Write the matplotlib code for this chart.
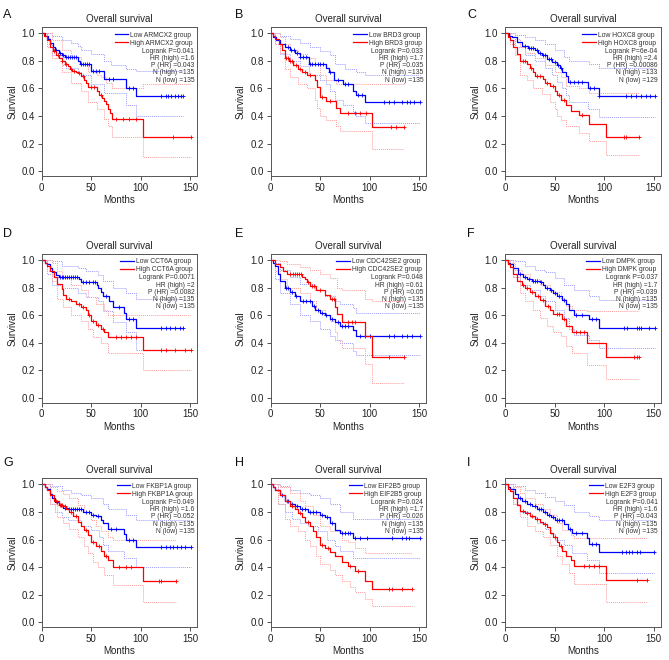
import numpy as np
import matplotlib
matplotlib.use("Agg")
import matplotlib.pyplot as plt

plt.rcParams['font.family'] = ['Liberation Sans', 'DejaVu Sans']

# panel letters, gene names and the stats printed in each panel
letters = ["A", "B", "C", "D", "E", "F", "G", "H", "I"]
genes = ["ARMCX2", "BRD3", "HOXC8", "CCT6A", "CDC42SE2", "DMPK", "FKBP1A", "EIF2B5", "E2F3"]
logrank_p = ["0.041", "0.033", "6e-04", "0.0071", "0.048", "0.037", "0.049", "0.024", "0.041"]
hr_high = ["1.6", "1.7", "2.4", "2", "0.61", "1.7", "1.6", "1.7", "1.6"]
p_hr = ["0.043", "0.035", "0.00086", "0.0082", "0.05", "0.039", "0.052", "0.026", "0.043"]
n_high = [135, 135, 133, 135, 135, 135, 135, 135, 135]
n_low = [135, 135, 129, 135, 135, 135, 135, 135, 135]

# ---- KM curves (months, survival) ----
A_low = [(0,1.0),(3,0.98),(6,0.96),(8,0.93),(11,0.90),(13,0.88),(17,0.86),(20,0.845),(24,0.83),(37,0.80),(39,0.78),(50,0.73),(63,0.67),(85,0.60),(95.5,0.545),(143,0.545)]
A_low_cens = [14, 18, 22, 25, 27, 29, 31, 33, 35, 40, 42, 44, 46, 48, 52, 55, 58, 68, 72, 88, 92, 120, 125, 128, 131, 135, 138, 141, 143]
A_high = [(0,1.0),(2,0.98),(5,0.95),(8,0.90),(11,0.87),(14,0.84),(17,0.82),(20,0.80),(24,0.78),(27,0.76),(29,0.74),(31,0.73),(35,0.72),(37,0.71),(40,0.69),(43,0.66),(45,0.64),(47,0.61),(56,0.58),(58,0.55),(61,0.53),(63,0.51),(65,0.49),(67,0.45),(69,0.42),(71,0.38),(102,0.25),(151,0.25)]
A_high_cens = [12, 16, 20, 25, 30, 33, 38, 42, 50, 53, 60, 75, 82, 88, 95, 133, 151]
A_low_up = [(0,1.0),(10,0.98),(20,0.95),(30,0.93),(37,0.91),(40,0.88),(50,0.85),(63,0.80),(70,0.77),(85,0.74),(95.5,0.73),(143,0.73)]
A_low_lo = [(0,1.0),(5,0.92),(10,0.84),(20,0.77),(25,0.75),(37,0.72),(40,0.70),(50,0.63),(63,0.57),(85,0.48),(95.5,0.40),(143,0.40)]
A_high_up = [(0,1.0),(10,0.95),(20,0.88),(30,0.83),(40,0.78),(47,0.72),(56,0.70),(60,0.68),(65,0.64),(71,0.60),(102,0.63),(151,0.63)]
A_high_lo = [(0,1.0),(5,0.90),(10,0.82),(20,0.72),(30,0.64),(40,0.58),(47,0.50),(56,0.45),(63,0.38),(67,0.33),(71,0.25),(102,0.10),(151,0.10)]

B_low = [(0,1.0),(3,0.97),(6,0.95),(10,0.92),(15,0.90),(20,0.88),(25,0.86),(30,0.83),(39,0.78),(56,0.75),(59,0.72),(64,0.66),(73,0.63),(83.5,0.58),(86,0.55),(95,0.50),(151,0.50)]
B_low_cens = [18, 21, 24, 27, 30, 33, 36, 40, 42, 45, 48, 50, 53, 60, 68, 75, 78, 88, 92, 115, 120, 125, 133, 138, 141, 145, 151]
B_high = [(0,1.0),(3,0.98),(5,0.96),(9,0.92),(12,0.88),(15,0.82),(19,0.80),(23,0.77),(28,0.74),(32,0.72),(37,0.70),(45,0.66),(47,0.61),(50,0.54),(56,0.51),(66,0.46),(70,0.42),(102,0.32),(135,0.32)]
B_high_cens = [16, 18, 20, 22, 26, 30, 35, 40, 52, 60, 78, 85, 90, 96, 122, 127, 135]
B_low_up = [(0,1.0),(10,0.98),(20,0.96),(30,0.93),(40,0.90),(50,0.87),(60,0.84),(65,0.78),(75,0.74),(86,0.72),(95,0.70),(151,0.70)]
B_low_lo = [(0,1.0),(5,0.92),(10,0.85),(20,0.80),(30,0.76),(39,0.70),(50,0.66),(56,0.63),(60,0.58),(65,0.52),(73,0.48),(83,0.43),(86,0.40),(95,0.35),(151,0.35)]
B_high_up = [(0,1.0),(10,0.97),(15,0.92),(20,0.88),(28,0.85),(37,0.82),(45,0.78),(50,0.70),(56,0.66),(66,0.63),(135,0.63)]
B_high_lo = [(0,1.0),(5,0.92),(10,0.86),(15,0.74),(20,0.68),(28,0.63),(37,0.60),(45,0.52),(47,0.46),(50,0.40),(56,0.37),(66,0.33),(70,0.29),(102,0.16),(135,0.16)]

C_low = [(0,1.0),(4,0.98),(7,0.97),(12,0.94),(17,0.91),(23,0.89),(30,0.88),(33,0.86),(37,0.84),(42,0.81),(47,0.79),(52,0.77),(56,0.75),(58,0.72),(62,0.69),(64,0.65),(83.5,0.60),(95,0.545),(151,0.545)]
C_low_cens = [20, 24, 26, 28, 32, 35, 38, 40, 44, 46, 50, 54, 57, 66, 70, 74, 78, 86, 90, 95, 122, 127, 132, 137, 142, 146, 151]
C_high = [(0,1.0),(3,0.97),(5,0.95),(8,0.90),(12,0.85),(15,0.80),(22,0.78),(25,0.75),(28,0.72),(30,0.69),(38,0.67),(40,0.64),(45,0.62),(50,0.58),(53,0.55),(57,0.52),(62,0.48),(67,0.44),(75,0.41),(85,0.34),(102,0.25),(135,0.25)]
C_high_cens = [18, 20, 26, 32, 35, 42, 48, 55, 60, 78, 120, 122, 135]
C_low_up = [(0,1.0),(10,0.99),(20,0.97),(30,0.95),(40,0.92),(50,0.88),(60,0.83),(65,0.80),(85,0.78),(95,0.75),(151,0.75)]
C_low_lo = [(0,1.0),(5,0.95),(10,0.90),(20,0.84),(30,0.80),(40,0.75),(47,0.70),(52,0.65),(58,0.60),(62,0.55),(65,0.50),(84,0.45),(95,0.39),(151,0.39)]
C_high_up = [(0,1.0),(10,0.96),(15,0.90),(20,0.86),(30,0.82),(40,0.77),(50,0.72),(57,0.68),(62,0.62),(75,0.60),(85,0.57),(135,0.57)]
C_high_lo = [(0,1.0),(5,0.92),(10,0.84),(15,0.70),(22,0.66),(28,0.60),(37,0.56),(45,0.50),(50,0.45),(53,0.40),(57,0.37),(62,0.33),(75,0.28),(85,0.22),(102,0.12),(135,0.12)]

D_low = [(0,1.0),(3,0.98),(5,0.97),(8,0.94),(10,0.91),(14,0.89),(17,0.88),(38,0.86),(40,0.84),(56,0.82),(57,0.80),(60,0.77),(62,0.74),(68,0.70),(72,0.66),(83,0.62),(85,0.57),(95,0.51),(143,0.51)]
D_low_cens = [18, 20, 22, 24, 26, 28, 30, 32, 34, 36, 42, 45, 48, 52, 54, 65, 78, 88, 92, 120, 125, 130, 135, 140, 143]
D_high = [(0,1.0),(3,0.98),(5,0.96),(8,0.92),(12,0.88),(15,0.83),(20,0.79),(22,0.75),(25,0.72),(30,0.70),(35,0.68),(40,0.66),(45,0.64),(47,0.60),(50,0.56),(55,0.53),(60,0.50),(63,0.48),(67,0.44),(102,0.35),(151,0.35)]
D_high_cens = [28, 38, 42, 48, 52, 57, 62, 75, 80, 85, 90, 95, 120, 125, 135, 145, 151]
D_low_up = [(0,1.0),(10,0.99),(20,0.96),(37,0.94),(45,0.92),(57,0.89),(62,0.85),(72,0.80),(85,0.76),(95,0.72),(143,0.72)]
D_low_lo = [(0,1.0),(5,0.90),(10,0.82),(20,0.80),(37,0.76),(45,0.73),(57,0.70),(62,0.63),(72,0.55),(85,0.48),(95,0.35),(143,0.35)]
D_high_up = [(0,1.0),(10,0.98),(15,0.92),(20,0.87),(30,0.82),(40,0.78),(47,0.73),(55,0.68),(63,0.64),(67,0.60),(151,0.60)]
D_high_lo = [(0,1.0),(5,0.92),(10,0.85),(15,0.72),(22,0.66),(30,0.60),(40,0.56),(47,0.50),(52,0.44),(60,0.40),(67,0.33),(102,0.20),(151,0.20)]

E_low = [(0,1.0),(3,0.98),(5,0.96),(8,0.90),(10,0.85),(15,0.80),(20,0.77),(25,0.74),(30,0.70),(42,0.67),(45,0.64),(50,0.62),(55,0.60),(60,0.57),(65,0.55),(70,0.52),(83,0.49),(86,0.45),(151,0.45)]
E_low_cens = [16, 18, 22, 26, 33, 36, 40, 44, 48, 52, 56, 62, 68, 72, 75, 78, 90, 95, 100, 120, 125, 133, 138, 143, 151]
E_high = [(0,1.0),(5,0.97),(10,0.95),(13,0.92),(17,0.90),(32,0.88),(35,0.86),(37,0.84),(40,0.81),(46,0.78),(55,0.75),(60,0.72),(65,0.66),(67,0.61),(72,0.55),(95,0.45),(102,0.30),(135,0.30)]
E_high_cens = [20, 23, 25, 27, 29, 31, 38, 42, 44, 50, 62, 64, 78, 82, 85, 120, 135]
E_low_up = [(0,1.0),(5,0.98),(10,0.93),(20,0.88),(30,0.83),(45,0.78),(55,0.74),(65,0.70),(70,0.68),(83,0.65),(86,0.62),(151,0.62)]
E_low_lo = [(0,1.0),(5,0.86),(10,0.76),(20,0.68),(30,0.60),(40,0.56),(50,0.50),(60,0.45),(65,0.42),(70,0.40),(83,0.34),(86,0.31),(151,0.31)]
E_high_up = [(0,1.0),(10,0.99),(17,0.97),(30,0.95),(40,0.93),(50,0.90),(60,0.87),(67,0.80),(72,0.78),(95,0.72),(102,0.70),(135,0.70)]
E_high_lo = [(0,1.0),(5,0.92),(10,0.86),(17,0.80),(30,0.76),(40,0.70),(46,0.64),(55,0.60),(60,0.56),(65,0.48),(67,0.42),(72,0.36),(95,0.25),(102,0.11),(135,0.11)]

F_low = [(0,1.0),(3,0.98),(5,0.97),(8,0.94),(13,0.90),(18,0.88),(22,0.86),(27,0.85),(35,0.84),(38,0.82),(40,0.80),(45,0.78),(48,0.76),(52,0.74),(58,0.71),(62,0.68),(65,0.64),(70,0.60),(85,0.57),(95,0.51),(151,0.51)]
F_low_cens = [15, 20, 24, 28, 30, 32, 36, 42, 46, 50, 55, 60, 72, 78, 88, 92, 120, 123, 133, 135, 137, 145, 151]
F_high = [(0,1.0),(3,0.97),(5,0.95),(8,0.90),(12,0.85),(17,0.82),(20,0.80),(25,0.77),(30,0.74),(35,0.71),(40,0.67),(45,0.64),(48,0.61),(58,0.57),(62,0.52),(68,0.48),(83,0.40),(102,0.30),(135,0.30)]
F_high_cens = [18, 22, 27, 33, 38, 43, 52, 55, 60, 72, 76, 80, 130, 133, 135]
F_low_up = [(0,1.0),(10,0.99),(20,0.96),(30,0.93),(40,0.91),(50,0.87),(60,0.82),(70,0.78),(85,0.74),(95,0.71),(151,0.71)]
F_low_lo = [(0,1.0),(8,0.88),(15,0.82),(25,0.78),(35,0.74),(40,0.70),(50,0.64),(60,0.58),(65,0.50),(70,0.46),(85,0.42),(95,0.36),(151,0.36)]
F_high_up = [(0,1.0),(5,0.98),(10,0.93),(17,0.90),(25,0.86),(35,0.82),(45,0.77),(57,0.72),(62,0.67),(68,0.64),(83,0.63),(135,0.63)]
F_high_lo = [(0,1.0),(8,0.88),(15,0.76),(20,0.70),(28,0.64),(35,0.58),(42,0.52),(48,0.48),(57,0.45),(62,0.38),(68,0.33),(83,0.24),(102,0.14),(135,0.14)]

G_low = [(0,1.0),(3,0.98),(5,0.97),(8,0.93),(10,0.90),(13,0.87),(17,0.85),(22,0.83),(27,0.82),(42,0.80),(50,0.78),(55,0.77),(60,0.74),(62,0.72),(67,0.68),(83,0.64),(85,0.60),(95,0.545),(151,0.545)]
G_low_cens = [15, 19, 24, 28, 30, 32, 34, 36, 38, 40, 45, 48, 52, 57, 70, 75, 88, 92, 120, 125, 130, 133, 137, 141, 145, 151]
G_high = [(0,1.0),(3,0.98),(5,0.96),(8,0.92),(12,0.88),(17,0.85),(22,0.84),(25,0.82),(28,0.80),(32,0.77),(37,0.73),(40,0.70),(43,0.67),(47,0.63),(50,0.58),(55,0.55),(60,0.52),(63,0.48),(67,0.45),(72,0.40),(102,0.30),(136,0.30)]
G_high_cens = [14, 18, 20, 24, 30, 35, 45, 52, 58, 65, 78, 85, 90, 118, 120, 136]
G_low_up = [(0,1.0),(10,0.99),(20,0.96),(30,0.94),(40,0.92),(50,0.90),(62,0.86),(67,0.82),(85,0.78),(95,0.74),(151,0.74)]
G_low_lo = [(0,1.0),(8,0.86),(13,0.80),(20,0.76),(27,0.74),(40,0.70),(50,0.67),(58,0.62),(62,0.56),(67,0.52),(83,0.47),(95,0.40),(151,0.40)]
G_high_up = [(0,1.0),(8,0.98),(15,0.95),(22,0.93),(28,0.90),(37,0.85),(43,0.80),(50,0.74),(55,0.70),(60,0.66),(67,0.62),(72,0.60),(136,0.60)]
G_high_lo = [(0,1.0),(8,0.86),(15,0.76),(22,0.72),(28,0.68),(37,0.62),(43,0.55),(47,0.50),(52,0.44),(57,0.40),(63,0.34),(72,0.27),(102,0.15),(136,0.15)]

H_low = [(0,1.0),(3,0.98),(5,0.96),(10,0.92),(15,0.88),(20,0.86),(25,0.84),(30,0.82),(38,0.80),(50,0.78),(55,0.76),(60,0.72),(65,0.67),(70,0.65),(83,0.61),(151,0.61)]
H_low_cens = [12, 18, 22, 27, 32, 35, 40, 43, 46, 52, 57, 62, 72, 75, 78, 80, 85, 90, 97, 123, 133, 137, 140, 151]
H_high = [(0,1.0),(3,0.98),(5,0.96),(10,0.92),(15,0.88),(20,0.84),(25,0.82),(28,0.79),(32,0.76),(35,0.73),(40,0.70),(43,0.66),(46,0.62),(50,0.56),(55,0.54),(60,0.51),(65,0.48),(72,0.44),(78,0.41),(85,0.37),(95,0.30),(102,0.24),(143,0.24)]
H_high_cens = [17, 22, 30, 38, 52, 58, 80, 88, 120, 123, 133, 143]
H_low_up = [(0,1.0),(10,0.99),(20,0.96),(30,0.94),(40,0.92),(50,0.90),(60,0.86),(70,0.80),(83,0.75),(151,0.75)]
H_low_lo = [(0,1.0),(8,0.86),(15,0.80),(22,0.75),(30,0.72),(38,0.70),(48,0.66),(57,0.60),(65,0.55),(70,0.52),(83,0.47),(151,0.47)]
H_high_up = [(0,1.0),(10,0.98),(20,0.94),(30,0.88),(35,0.84),(43,0.78),(50,0.70),(60,0.66),(72,0.60),(78,0.58),(85,0.54),(95,0.50),(143,0.50)]
H_high_lo = [(0,1.0),(8,0.86),(15,0.75),(20,0.70),(28,0.66),(35,0.60),(40,0.55),(46,0.48),(50,0.42),(60,0.38),(65,0.34),(72,0.30),(80,0.26),(85,0.22),(95,0.17),(102,0.12),(143,0.12)]

I_low = [(0,1.0),(3,0.98),(5,0.97),(10,0.93),(13,0.90),(17,0.88),(22,0.86),(27,0.84),(32,0.82),(38,0.80),(42,0.78),(46,0.76),(50,0.74),(60,0.71),(64,0.68),(68,0.65),(83,0.61),(85,0.57),(95,0.51),(150,0.51)]
I_low_cens = [15, 20, 25, 30, 34, 36, 40, 44, 48, 52, 55, 58, 66, 72, 78, 88, 92, 118, 122, 125, 128, 133, 136, 150]
I_high = [(0,1.0),(3,0.97),(5,0.95),(8,0.90),(12,0.85),(15,0.81),(20,0.79),(25,0.77),(30,0.75),(35,0.73),(38,0.71),(42,0.69),(45,0.65),(48,0.62),(52,0.58),(55,0.55),(58,0.52),(62,0.48),(67,0.45),(70,0.41),(102,0.31),(143,0.31)]
I_high_cens = [18, 22, 27, 32, 40, 50, 57, 80, 85, 90, 95, 133, 143]
I_low_up = [(0,1.0),(10,0.99),(20,0.96),(30,0.94),(40,0.91),(50,0.88),(60,0.85),(70,0.80),(85,0.77),(95,0.74),(150,0.74)]
I_low_lo = [(0,1.0),(8,0.86),(15,0.80),(25,0.76),(32,0.72),(40,0.68),(46,0.64),(50,0.60),(60,0.56),(68,0.50),(83,0.45),(95,0.36),(150,0.36)]
I_high_up = [(0,1.0),(8,0.98),(15,0.94),(20,0.90),(30,0.86),(38,0.82),(45,0.78),(52,0.72),(58,0.67),(67,0.63),(70,0.61),(143,0.61)]
I_high_lo = [(0,1.0),(8,0.86),(15,0.76),(22,0.70),(30,0.66),(38,0.62),(45,0.56),(52,0.48),(58,0.42),(65,0.36),(70,0.28),(102,0.15),(143,0.15)]

curves = [
    (A_low, A_low_cens, A_high, A_high_cens, A_low_up, A_low_lo, A_high_up, A_high_lo),
    (B_low, B_low_cens, B_high, B_high_cens, B_low_up, B_low_lo, B_high_up, B_high_lo),
    (C_low, C_low_cens, C_high, C_high_cens, C_low_up, C_low_lo, C_high_up, C_high_lo),
    (D_low, D_low_cens, D_high, D_high_cens, D_low_up, D_low_lo, D_high_up, D_high_lo),
    (E_low, E_low_cens, E_high, E_high_cens, E_low_up, E_low_lo, E_high_up, E_high_lo),
    (F_low, F_low_cens, F_high, F_high_cens, F_low_up, F_low_lo, F_high_up, F_high_lo),
    (G_low, G_low_cens, G_high, G_high_cens, G_low_up, G_low_lo, G_high_up, G_high_lo),
    (H_low, H_low_cens, H_high, H_high_cens, H_low_up, H_low_lo, H_high_up, H_high_lo),
    (I_low, I_low_cens, I_high, I_high_cens, I_low_up, I_low_lo, I_high_up, I_high_lo),
]

BLUE = "#0000ff"
RED = "#ff0000"
BLUE_CI = "#9c9cff"
RED_CI = "#ff9c9c"

W, H = 669, 660
fig = plt.figure(figsize=(W / 100, H / 100), dpi=100)

col_left = [41.7, 270.5, 505.0]     # px
row_top = [27.2, 254.0, 478.3]      # px
ax_w, ax_h = 155.5, 148.5
letter_x = [3, 235, 467]
letter_top = [9.5, 228, 457]


def step_xy(pts):
    t = np.array([p[0] for p in pts], dtype=float)
    s = np.array([p[1] for p in pts], dtype=float)
    return t, s


def surv_at(t, s, times):
    idx = np.searchsorted(t, np.asarray(times, dtype=float), side="right") - 1
    return s[np.clip(idx, 0, len(s) - 1)]


for i in range(9):
    r, c = divmod(i, 3)
    left = col_left[c] / W
    bottom = 1 - (row_top[r] + ax_h) / H
    ax = fig.add_axes([left, bottom, ax_w / W, ax_h / H])
    low, low_c, high, high_c, lup, llo, hup, hlo = curves[i]

    # confidence bands (dotted)
    for pts, col in [(lup, BLUE_CI), (llo, BLUE_CI), (hup, RED_CI), (hlo, RED_CI)]:
        t, s = step_xy(pts)
        ax.step(t, s, where="post", color=col, lw=0.7, ls=(0, (1, 1)))

    # survival curves
    t, s = step_xy(low)
    ax.step(t, s, where="post", color=BLUE, lw=0.9, label="Low %s group" % genes[i])
    ax.plot(low_c, surv_at(t, s, low_c), "+", color=BLUE, ms=3.5, mew=0.6)
    t, s = step_xy(high)
    ax.step(t, s, where="post", color=RED, lw=0.9, label="High %s group" % genes[i])
    ax.plot(high_c, surv_at(t, s, high_c), "+", color=RED, ms=3.5, mew=0.6)

    ax.set_xlim(0, 157)
    ax.set_ylim(-0.032, 1.044)
    ax.set_xticks([0, 50, 100, 150])
    ax.set_yticks([0.0, 0.2, 0.4, 0.6, 0.8, 1.0])
    ax.set_yticklabels(["%.1f" % v for v in [0.0, 0.2, 0.4, 0.6, 0.8, 1.0]])
    ax.tick_params(labelsize=7, length=3, width=0.6, pad=2, colors="#333333", labelcolor="#222222")
    for sp in ax.spines.values():
        sp.set_color("#555555")
        sp.set_linewidth(0.7)
    ax.set_xlabel("Months", fontsize=7, labelpad=1.5, color="#222222")
    ax.set_ylabel("Survival", fontsize=7, labelpad=3, color="#222222")
    ax.set_title("Overall survival", fontsize=7, pad=3.5, color="#222222")

    leg = ax.legend(loc="upper right", frameon=False, fontsize=4.9, handlelength=2.0,
                    handletextpad=0.3, borderaxespad=0.3, borderpad=0.35, labelspacing=0.15)
    for txt in leg.get_texts():
        txt.set_color("#333333")

    stats = "Logrank P=%s\nHR (high) =%s\nP (HR) =%s\nN (high) =%d\nN (low) =%d" % (
        logrank_p[i], hr_high[i], p_hr[i], n_high[i], n_low[i])
    ax.text(0.982, 0.862, stats, transform=ax.transAxes, ha="right", va="top",
            fontsize=4.9, linespacing=1.05, multialignment="right", color="#333333")

    fig.text(letter_x[c] / W, 1 - letter_top[r] / H, letters[i], fontsize=9,
             ha="left", va="top", color="#111111")

fig.savefig("out.png", dpi=100)
